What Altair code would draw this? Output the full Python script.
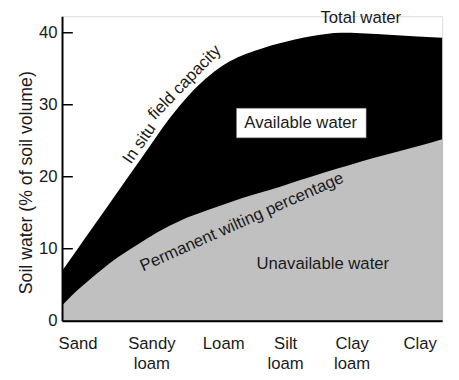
import json
import altair as alt
import pandas as pd

# Soil textures along the x axis (position on a 0-100 texture scale)
textures = ["Sand", "Sandy loam", "Loam", "Silt loam", "Clay loam", "Clay"]
texture_pos = [4.1, 23.5, 42.4, 58.7, 76.2, 94.1]

# In situ field capacity (total water), % of soil volume
fc_pos = [0, 4, 8, 12, 16.5, 20.5, 25, 28, 31, 35.5, 40, 44, 48.5, 53, 57, 65.5, 73.5, 78.5, 87, 100]
fc_val = [6.9, 9.9, 12.9, 15.9, 19.3, 22.3, 25.7, 27.9, 29.9, 32.5, 34.6, 36.0, 37.1, 37.9, 38.5, 39.5, 40.0, 39.95, 39.7, 39.3]

# Permanent wilting percentage (unavailable water)
pwp_pos = [0, 1.8, 4.4, 7, 10.9, 14.7, 19.9, 25.1, 31.5, 38, 44.4, 50.9, 57.4, 62.5, 69, 75.5, 81.9, 88.4, 94.8, 100]
pwp_val = [2.1, 3.1, 4.4, 5.6, 7.3, 8.8, 10.6, 12.3, 14.0, 15.3, 16.5, 17.6, 18.6, 19.5, 20.6, 21.6, 22.6, 23.5, 24.4, 25.2]

y_ticks = [0, 10, 20, 30, 40]

FONT = "Liberation Sans"
TXT = "#1a1a1a"

df_fc = pd.DataFrame({"pos": fc_pos, "v": fc_val})
df_pwp = pd.DataFrame({"pos": pwp_pos, "v": pwp_val})
df_ticks = pd.DataFrame({"v": y_ticks[1:]})

label_expr = ""
for p, t in zip(texture_pos, textures):
    label_expr += f"datum.value == {p} ? {json.dumps(t.split(' '))} : "
label_expr += "''"

xs = alt.Scale(domain=[0, 100], nice=False, zero=False)
ys = alt.Scale(domain=[0, 42.3], nice=False)

x_axis = alt.Axis(
    values=texture_pos, labelExpr=label_expr, title=None, grid=False,
    tickSize=0, domainWidth=2, domainColor="black", labelPadding=15,
    labelFont=FONT, labelFontSize=17, labelColor=TXT, labelLineHeight=21,
    labelBaseline="top", labelOverlap=False, labelFlush=False, labelBound=False,
    zindex=1,
)
y_axis = alt.Axis(
    values=y_ticks, title="Soil water (% of soil volume)", grid=False,
    tickSize=0, domainWidth=2, domainColor="black", labelPadding=5,
    labelFont=FONT, labelFontSize=17, labelColor=TXT,
    titleFont=FONT, titleFontSize=18, titleFontWeight="normal", titleColor=TXT,
    titleAngle=270, titleX=-36, titleY=169, titleAlign="center", titleBaseline="middle",
    zindex=1,
)

black = alt.Chart(df_fc).mark_area(color="black", interpolate="monotone").encode(
    x=alt.X("pos:Q", scale=xs, axis=x_axis),
    y=alt.Y("v:Q", scale=ys, axis=y_axis),
)
gray = alt.Chart(df_pwp).mark_area(color="#c0c0c0", interpolate="monotone").encode(
    x=alt.X("pos:Q", scale=xs),
    y=alt.Y("v:Q", scale=ys),
)
ticks = alt.Chart(df_ticks).mark_rule(color="black", strokeWidth=1.5).encode(
    y=alt.Y("v:Q", scale=ys),
    x=alt.value(0),
    x2=alt.value(11),
)

box_df = pd.DataFrame({"x0": [45.9], "x1": [80.0], "y0": [25.4], "y1": [29.5]})
box = alt.Chart(box_df).mark_rect(fill="white", stroke="#888888", strokeWidth=0.5).encode(
    x=alt.X("x0:Q", scale=xs), x2="x1:Q",
    y=alt.Y("y0:Q", scale=ys), y2="y1:Q",
)

notes = pd.DataFrame({
    "text": ["Total water", "Available water", "Unavailable water",
             "In situ", "field capacity", "Permanent wilting percentage"],
    "x": [78.6, 62.8, 68.6, 20.4, 32.3, 47.3],
    "y": [42.0, 27.5, 7.9, 24.6, 33.1, 13.7],
    "angle": [0, 0, 0, 305, 314, 336],
})
text = alt.Chart(notes).mark_text(
    font=FONT, fontSize=17, color=TXT, align="center", baseline="middle"
).encode(
    x=alt.X("x:Q", scale=xs),
    y=alt.Y("y:Q", scale=ys),
    text="text:N",
    angle=alt.Angle("angle:Q", scale=None),
)

chart = alt.layer(black, gray, ticks, box, text).properties(
    width=387, height=310,
    padding={"left": 55, "top": 5, "right": 9, "bottom": 57},
    autosize=alt.AutoSizeParams(type="none"),
).configure_view(stroke=None).configure(background="white")

chart.save("out.html", embed_options={"renderer": "svg", "actions": False})
